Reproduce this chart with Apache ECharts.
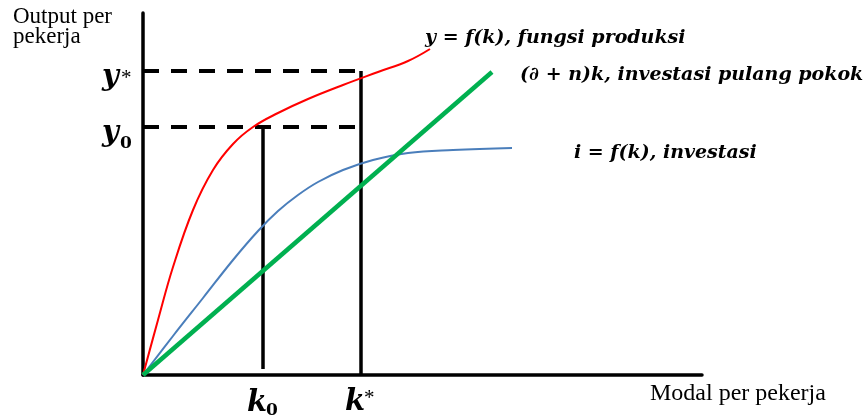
<!DOCTYPE html>
<html>
<head>
<meta charset="utf-8">
<script src="https://cdn.jsdelivr.net/npm/echarts@6/dist/echarts.min.js"></script>
<style>
  html, body { margin: 0; padding: 0; background: #fff; }
  #chart { width: 868px; height: 419px; }
</style>
</head>
<body>
<div id="chart"></div>
<script>
// kurva produksi y = f(k)  [k, y]
const produksi = [
  [0, 0], [15, 55], [30, 108], [50, 165], [70, 205], [90, 231], [110, 248],
  [135, 262], [165, 276], [200, 290], [235, 303], [265, 314], [287, 326]
]
// kurva investasi i = s f(k)
const investasi = [
  [0, 0], [30, 39], [60, 77], [90, 115], [115, 144], [135, 164], [155, 180],
  [175, 193], [200, 205], [230, 215], [265, 222], [310, 225], [369, 227]
]
// garis (∂ + n)k
const pulangPokok = [[0, 0], [349, 303]]

// titik keseimbangan
const k0 = 120, kStar = 218
const y0 = 248, yStar = 304

const dashY0 = [[0, y0], [212, y0]]
const dashYStar = [[0, yStar], [212, yStar]]
const garisK0 = [[k0, 6], [k0, y0]]
const garisKStar = [[kStar, 0], [kStar, yStar]]

const mathFont = 'DejaVu Serif'
const textFont = 'Liberation Serif'

const chart = echarts.init(document.getElementById('chart'))

const lineSeries = (data, color, width, type) => ({
  type: 'line',
  data: data,
  showSymbol: false,
  symbol: 'none',
  silent: true,
  lineStyle: { color: color, width: width, type: type || 'solid', cap: 'butt' },
  z: 3
})

const txt = (x, y, text, font, align) => ({
  type: 'text',
  x: x,
  y: y,
  style: { text: text, fill: '#000', font: font, verticalAlign: align || 'middle' }
})

const mathBig = `italic bold 29px "${mathFont}"`
const mathSub = `bold 17px "${mathFont}"`
const star = `21px "${textFont}"`
const mathNote = `italic bold 19px "${mathFont}"`

chart.setOption({
  animation: false,
  backgroundColor: '#fff',
  grid: { left: 143, top: 13, width: 559, height: 362 },
  xAxis: {
    type: 'value', min: 0, max: 559,
    axisLine: { show: true, onZero: false, lineStyle: { color: '#000', width: 3.5 } },
    axisTick: { show: false }, axisLabel: { show: false }, splitLine: { show: false }
  },
  yAxis: {
    type: 'value', min: 0, max: 362,
    axisLine: { show: true, onZero: false, lineStyle: { color: '#000', width: 3.5 } },
    axisTick: { show: false }, axisLabel: { show: false }, splitLine: { show: false }
  },
  series: [
    Object.assign(lineSeries(dashYStar, '#000', 4, [16, 12]), { z: 2 }),
    Object.assign(lineSeries(dashY0, '#000', 4, [16, 12]), { z: 2 }),
    Object.assign(lineSeries(garisK0, '#000', 3.5), { z: 2 }),
    Object.assign(lineSeries(garisKStar, '#000', 3.5), { z: 2 }),
    Object.assign(lineSeries(produksi, '#ff0000', 2), { smooth: 0.4 }),
    Object.assign(lineSeries(investasi, '#4a7ebb', 2), { smooth: 0.4 }),
    lineSeries(pulangPokok, '#00b050', 4.5)
  ],
  graphic: [
    txt(13, 17, 'Output per', `23px "${textFont}"`),
    txt(13, 37, 'pekerja', `23px "${textFont}"`),
    txt(650, 394, 'Modal per pekerja', `24px "${textFont}"`),
    txt(102, 77, 'y', mathBig),
    txt(121, 68, '*', star, 'top'),
    txt(102, 133, 'y', mathBig),
    txt(120, 144, '0', mathSub),
    txt(247, 403, 'k', mathBig),
    txt(266, 411, '0', mathSub),
    txt(345, 402, 'k', mathBig),
    txt(364, 388, '*', star, 'top'),
    txt(425, 38, 'y = f(k), fungsi produksi', mathNote),
    txt(520, 75, '(∂ + n)k, investasi pulang pokok', mathNote),
    txt(574, 153, 'i = f(k), investasi', mathNote)
  ]
})
</script>
</body>
</html>
